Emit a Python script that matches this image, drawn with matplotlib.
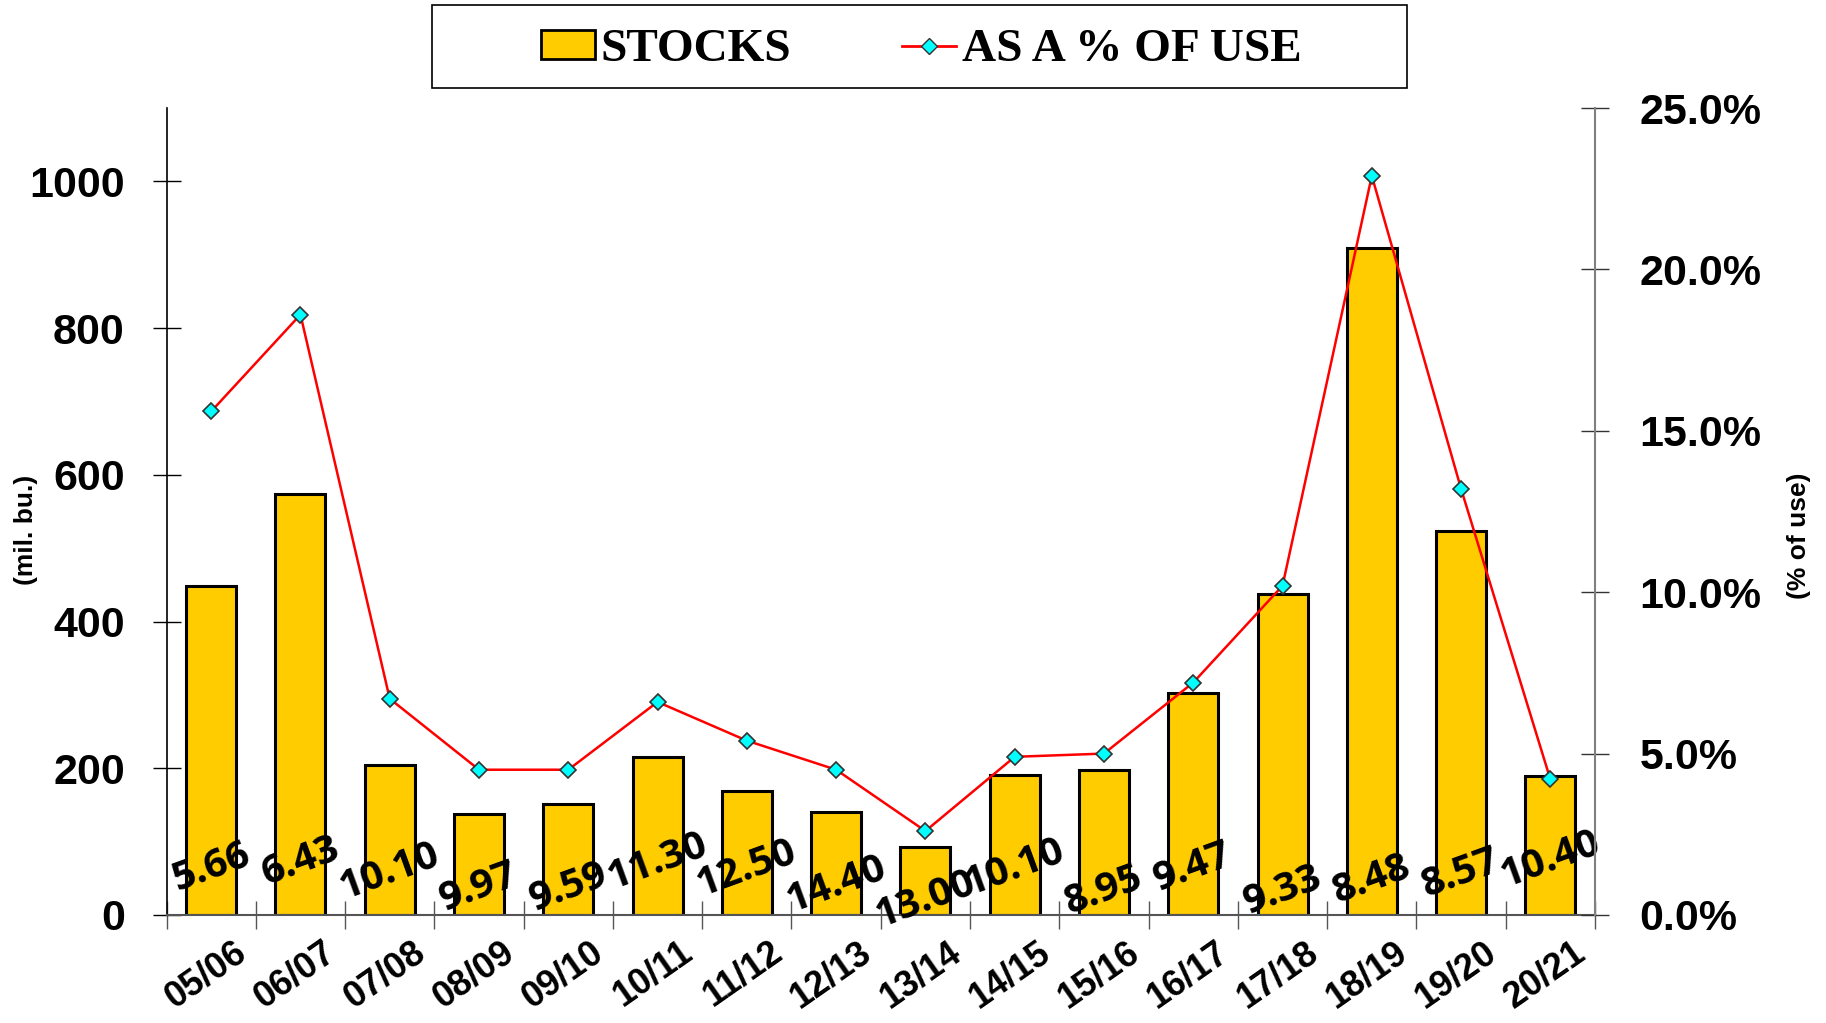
import numpy as np
import matplotlib
matplotlib.use('Agg')
from matplotlib import pyplot as plt
from matplotlib.patches import Patch, Rectangle
from matplotlib.lines import Line2D
from matplotlib.ticker import FuncFormatter, FixedLocator
import matplotlib.transforms as mtransforms

plt.rcParams['font.family'] = ['Liberation Sans', 'DejaVu Sans']

# data
years = ['05/06', '06/07', '07/08', '08/09', '09/10', '10/11', '11/12', '12/13',
         '13/14', '14/15', '15/16', '16/17', '17/18', '18/19', '19/20', '20/21']
stocks = [449, 574, 205, 138, 151, 215, 169, 141, 92, 191, 197, 302, 438, 909, 523, 190]
pct_of_use = [15.6, 18.6, 6.7, 4.5, 4.5, 6.6, 5.4, 4.5, 2.6, 4.9, 5.0, 7.2, 10.2, 22.9, 13.2, 4.2]
prices = ['5.66', '6.43', '10.10', '9.97', '9.59', '11.30', '12.50', '14.40',
          '13.00', '10.10', '8.95', '9.47', '9.33', '8.48', '8.57', '10.40']

# where the price labels sit (left axis units)
price_label_y = [65, 73, 60, 38, 38, 73, 63, 41, 21, 65, 33, 65, 33, 49, 57, 76]

x = np.arange(len(years))

fig = plt.figure(figsize=(18.26, 10.23), dpi=100)
ax = fig.add_axes([0.0912, 0.1056, 0.7823, 0.7888])

ax.bar(x, stocks, width=0.56, color='#FFCC00', edgecolor='black', linewidth=2.2, zorder=2)
ax.set_xlim(-0.5, len(years) - 0.5)
ax.set_ylim(0, 1100)
ax.set_yticks([0, 200, 400, 600, 800, 1000])

# price labels
for i, (p, py) in enumerate(zip(prices, price_label_y)):
    ax.text(i, py, p, rotation=20, ha='center', va='center', rotation_mode='anchor',
            fontsize=29, family=['Open Sans', 'DejaVu Sans'], fontweight='bold',
            color='black', zorder=5)

# spines
ax.spines['top'].set_visible(False)
ax.spines['right'].set_visible(False)
ax.spines['left'].set_color('black')
ax.spines['left'].set_linewidth(1.2)
ax.spines['bottom'].set_color('#555555')
ax.spines['bottom'].set_linewidth(1.5)

# x ticks: marks between categories, labels at centres
ax.xaxis.set_major_locator(FixedLocator(np.arange(-0.5, len(years), 1.0)))
ax.xaxis.set_minor_locator(FixedLocator(x))
ax.tick_params(axis='x', which='major', direction='inout', length=20, width=1,
               color='#555555', labelbottom=False)
ax.tick_params(axis='x', which='minor', length=0, pad=14)
ax.set_xticks(x, minor=True)
ax.set_xticklabels(years, minor=True, rotation=35, ha='right', rotation_mode='anchor',
                   fontsize=26, fontweight='bold')
offset = mtransforms.ScaledTranslation(0.22, 0, fig.dpi_scale_trans)
for lab in ax.get_xticklabels(minor=True):
    lab.set_transform(lab.get_transform() + offset)

ax.tick_params(axis='y', direction='inout', length=20, width=1, color='black', pad=20)
for lab in ax.get_yticklabels():
    lab.set_fontsize(31)
    lab.set_fontweight('bold')

# percent of use line
ax2 = ax.twinx()
ax2.plot(x, pct_of_use, color='#FF0000', linewidth=1.8, marker='D', markersize=8,
         markerfacecolor='#00FFFF', markeredgecolor='#333333', markeredgewidth=1.2, zorder=4)
ax2.set_ylim(0, 25)
ax2.set_yticks([0, 5, 10, 15, 20, 25])
ax2.yaxis.set_major_formatter(FuncFormatter(lambda v, pos: f'{v:.1f}%'))
for s in ['top', 'left', 'bottom']:
    ax2.spines[s].set_visible(False)
ax2.spines['right'].set_color('#808080')
ax2.spines['right'].set_linewidth(1.5)
ax2.tick_params(axis='y', direction='inout', length=20, width=1, color='#333333', pad=22)
for lab in ax2.get_yticklabels():
    lab.set_fontsize(31)
    lab.set_fontweight('bold')

# axis titles
fig.text(0.014, 0.482, '(mil. bu.)', rotation=90, ha='center', va='center',
         fontsize=19, fontweight='bold')
fig.text(0.985, 0.476, '(% of use)', rotation=90, ha='center', va='center',
         fontsize=19, fontweight='bold')

# legend with its own box
handles = [Patch(facecolor='#FFCC00', edgecolor='black', linewidth=2),
           Line2D([0], [0], color='#FF0000', linewidth=2, marker='D', markersize=8,
                  markerfacecolor='#00FFFF', markeredgecolor='#333333')]
fig.legend(handles, ['STOCKS', 'AS A % OF USE'], loc='center', bbox_to_anchor=(0.5045, 0.951),
           ncol=2, frameon=False, handlelength=1.15, handleheight=0.55, handletextpad=0.12,
           columnspacing=2.35, prop={'family': 'Liberation Serif', 'weight': 'bold', 'size': 34})
fig.add_artist(Rectangle((0.2366, 0.914), 0.534, 0.081, transform=fig.transFigure,
                         fill=False, edgecolor='black', linewidth=1.2))

fig.savefig('out.png', dpi=100)
